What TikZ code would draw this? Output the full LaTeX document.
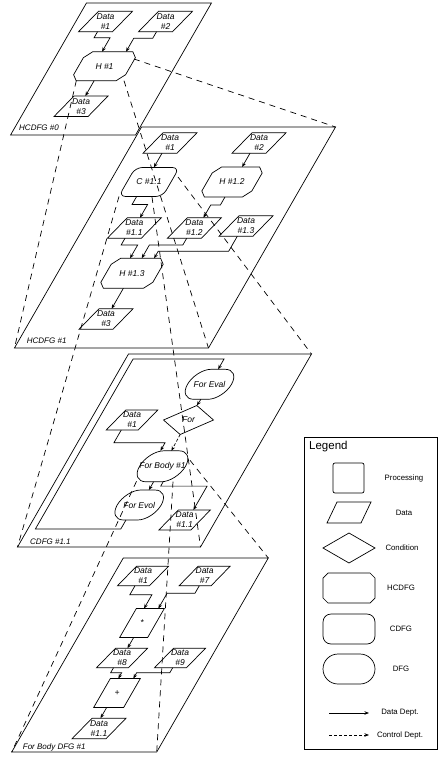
\documentclass[tikz,border=0pt]{standalone}
\usepackage{fontspec}
\setmainfont{Liberation Sans}
\usetikzlibrary{shapes.geometric,shapes.misc,arrows.meta,calc}
\newcommand{\hcdfgpath}[2]{%
  \draw[line width=0.7pt] ($(#1.north west)+(#2,0)$) -- ($(#1.north east)+(-#2,0)$)
    -- ($(#1.north east)+(0,#2)$) -- ($(#1.south east)+(0,-#2)$)
    -- ($(#1.south east)+(-#2,0)$) -- ($(#1.south west)+(#2,0)$)
    -- ($(#1.south west)+(0,-#2)$) -- ($(#1.north west)+(0,#2)$) -- cycle;}
\begin{document}
\begin{tikzpicture}[x=1pt,y=-1pt,
  shp/.style={draw, line width=0.7pt, inner sep=0pt, outer sep=0pt},
  plane/.style={shp, rectangle, xslant=0.575},
  dat/.style={shp, rectangle, xslant=0.975, minimum width=34pt, minimum height=20.5pt},
  proc/.style={shp, rectangle, xslant=0.575, minimum width=28pt, minimum height=29pt},
  cond/.style={shp, diamond, xslant=0.575, minimum width=50pt, minimum height=29pt},
  hc/.style={rectangle, inner sep=0pt, outer sep=0pt, xslant=0.575, minimum width=52pt, minimum height=29pt},
  cd/.style={shp, rectangle, rounded corners=7pt, xslant=0.575, minimum width=44pt, minimum height=29pt},
  dfg/.style={shp, rounded rectangle, xslant=0.575, minimum width=44pt, minimum height=30pt},
  ntxt/.style={font=\fontsize{8.5}{10}\selectfont\itshape, align=center, inner sep=0pt},
  ptxt/.style={font=\fontsize{8}{9}\selectfont\itshape, inner sep=0pt, anchor=west},
  ltxt/.style={font=\fontsize{7.8}{9}\selectfont, inner sep=0pt},
  dd/.style={line width=0.7pt, -{Stealth[length=4.5pt,width=3.5pt]}},
  cdep/.style={dd, dash pattern=on 3pt off 2pt},
  cdl/.style={line width=0.7pt, dash pattern=on 6pt off 5pt}]
\useasboundingbox (0,0) rectangle (438,757);

% ---------- planes ----------
\node[plane, minimum width=125pt, minimum height=132pt] (p0) at (111,69) {};
\node[plane, minimum width=194pt, minimum height=221pt] (p1) at (175,237.5) {};
\node[plane, minimum width=183pt, minimum height=193pt] (p2) at (164.5,450.5) {};
\node[plane, minimum width=145pt, minimum height=194pt] (p3) at (140,655) {};
\node[ptxt] (p0l) at (19,128) {HCDFG \#0};
\node[ptxt] (p1l) at (26.7,340.5) {HCDFG \#1};
\node[ptxt] (p2l) at (30,541.5) {CDFG \#1.1};
\node[ptxt] (p3l) at (22.7,747) {For Body DFG \#1};

% ---------- plane 0 ----------
\node[dat] (d01) at (105.5,21.5) {};  \node[ntxt] (d01t) at (d01) {Data\\\#1};
\node[dat] (d02) at (165.5,21.5) {};  \node[ntxt] (d02t) at (d02) {Data\\\#2};
\node[hc] (h01) at (104.5,66.2) {};   \node[ntxt] (h01t) at (h01) {H \#1};
\node[dat] (d03) at (81,106.3) {};    \node[ntxt] (d03t) at (d03) {Data\\\#3};

% ---------- plane 1 ----------
\node[dat] (d11) at (170,143) {};     \node[ntxt] (d11t) at (d11) {Data\\\#1};
\node[dat] (d12) at (259,143) {};     \node[ntxt] (d12t) at (d12) {Data\\\#2};
\node[cd] (c11) at (149,182) {};      \node[ntxt] (c11t) at (c11) {C \#1.1};
\node[hc, minimum width=50pt, minimum height=30pt] (h12) at (232,182) {}; \node[ntxt] (h12t) at (h12) {H \#1.2};
\node[dat] (d111) at (134.3,228) {};  \node[ntxt] (d111t) at (d111) {Data\\\#1.1};
\node[dat] (d112) at (194.4,228) {};  \node[ntxt] (d112t) at (d112) {Data\\\#1.2};
\node[dat] (d113) at (246,226) {};    \node[ntxt] (d113t) at (d113) {Data\\\#1.3};
\node[hc, minimum width=52pt, minimum height=30pt] (h13) at (132,273.3) {}; \node[ntxt] (h13t) at (h13) {H \#1.3};
\node[dat] (d13) at (106,319) {};     \node[ntxt] (d13t) at (d13) {Data\\\#3};

% ---------- plane 2 ----------
\node[dfg] (fev) at (209.5,384.3) {}; \node[ntxt] (fevt) at (fev) {For Eval};
\node[cond] (for) at (188.5,420) {};  \node[ntxt] (fort) at (for) {For};
\node[dat, minimum width=32pt, minimum height=20pt] (d21) at (132,420) {}; \node[ntxt] (d21t) at (d21) {Data\\\#1};
\node[dfg, minimum width=46pt, minimum height=31pt] (fb) at (162.5,466.3) {}; \node[ntxt] (fbt) at (fb) {For Body \#1};
\node[dfg] (fvl) at (139.2,505) {};   \node[ntxt] (fvlt) at (fvl) {For Evol};
\node[dat, minimum width=32pt, minimum height=20pt] (d211) at (184.6,520) {}; \node[ntxt] (d211t) at (d211) {Data\\\#1.1};

% ---------- plane 3 ----------
\node[dat, minimum width=32pt, minimum height=19.5pt] (d31) at (143,576) {}; \node[ntxt] (d31t) at (d31) {Data\\\#1};
\node[dat, minimum width=32pt, minimum height=19.5pt] (d37) at (204.6,576) {}; \node[ntxt] (d37t) at (d37) {Data\\\#7};
\node[proc] (mul) at (142,623) {};    \node[ntxt] (mult) at (mul) {*};
\node[dat, minimum width=32pt, minimum height=19.5pt] (d38) at (122,658) {}; \node[ntxt] (d38t) at (d38) {Data\\\#8};
\node[dat, minimum width=32pt, minimum height=19.5pt] (d39) at (180,658) {}; \node[ntxt] (d39t) at (d39) {Data\\\#9};
\node[proc, minimum width=30pt] (add) at (117,693) {}; \node[ntxt] (addt) at (add) {+};
\node[dat] (d3e) at (99,728.5) {};    \node[ntxt] (d3et) at (d3e) {Data\\\#1.1};

% ---------- sheared plane frame: HCDFG outlines and data dependences ----------
\begin{scope}[xslant=0.575]
\hcdfgpath{h01}{6}
\hcdfgpath{h12}{6}
\hcdfgpath{h13}{6}

\draw[dd] ($(d01.south)+(2,0)$) -- ++(0,6) -| ($(h01.north)+(-10.8,0)$);
\draw[dd] ($(d02.south)+(1,0)$) -- ++(0,6.5) -| ($(h01.north)+(13.2,0)$);
\coordinate (c0a) at ($(h01.south)+(-2,0)$);
\draw[dd] (c0a) -- (c0a |- d03.north);

\coordinate (c1a) at ($(d11.south)+(2,0)$);
\draw[dd] (c1a) -- (c1a |- c11.north);
\coordinate (c1b) at ($(d12.south)+(1,0)$);
\draw[dd] (c1b) -- (c1b |- h12.north);
\draw[dd] ($(c11.south)+(-4,0)$) -- ++(0,8) -| ($(d111.north)+(-4.3,0)$);
\draw[dd] ($(h12.south)+(1.6,0)$) -- ++(0,8) -| ($(d112.north)+(-1,0)$);
\draw[dd] ($(d111.south)+(0.7,0)$) -- ++(0,6.7) -| ($(h13.north)+(-10.6,0)$);
\draw[dd] ($(d112.south)+(2.3,0)$) -- ++(0,6.7) -| ($(h13.north)+(1.1,0)$);
\draw[dd] ($(d113.south)+(1.3,0)$) -- ++(0,15) -| ($(h13.north)+(13.5,0)$);
\draw[dd] (h13.south) -- (h13.south |- d13.north);

\draw[dd] ($(fvl.south)+(-4.6,0)$) -- ++(0,9) -| ($(p2.north west)+(7.5,5)$) -| (fev.north);
\draw[dd] (fev.south) -- (for.north);
\draw[cdep] (for.south) -- (fb.north);
\draw[dd] ($(d21.south)+(-1,0)$) -- ++(0,12.7) -| ($(fb.north)+(-11,0)$);
\draw[dd] (fb.south) -- (fb.south |- fvl.north);
\draw[dd] ($(fb.south)+(9.6,0)$) -- ++(0,4.3) -| ($(d211.north)+(-1,0)$);

\draw[dd] ($(d31.south)+(1.5,0)$) -- ++(0,9) -| ($(mul.north)+(-6.3,0)$);
\draw[dd] ($(d37.south)+(4.2,0)$) -- ++(0,7.5) -| ($(mul.north)+(8,0)$);
\draw[dd] (mul.south) -- (mul.south |- d38.north);
\draw[dd] ($(d38.south)+(1,0)$) -- ++(0,5) -| ($(add.north)+(-7,0)$);
\draw[dd] ($(d39.south)+(2.2,0)$) -- ++(0,5) -| ($(add.north)+(8,0)$);
\coordinate (c3a) at ($(add.south)+(-2,0)$);
\draw[dd] (c3a) -- (c3a |- d3e.north);
\end{scope}

% ---------- hierarchy projection lines ----------
\draw[cdl] ($(h01)+(29.5,-7.2)$) -- (p1.north east);
\draw[cdl] ($(h01)+(19.5,14.5)$) -- (p1.south east);
\draw[cdl] ($(h01)+(-28.2,14.5)$) -- (p1.south west);
\draw[cdl] ($(c11)+(29,-5)$) -- (p2.north east);
\draw[cdl] ($(c11)+(-30,14.5)$) -- (p2.south west);
\draw[cdl] ($(c11)+(3,15)$) -- (p2.south east);
\draw[cdl] ($(fb)+(27.5,-6)$) -- (p3.north east);
\draw[cdl] ($(fb)+(10.5,15.4)$) -- (p3.south east);
\draw[cdl] ($(fb)+(-26,15)$) -- (p3.south west);

% ---------- legend ----------
\node[shp, rectangle, minimum width=133pt, minimum height=312pt] (lg) at (370.5,593) {};
\node[font=\fontsize{11.5}{12}\selectfont, inner sep=0pt, anchor=north west] (lgt) at (309,441) {Legend};
\node[shp, rectangle, rounded corners=2pt, minimum width=31pt, minimum height=30pt] (lproc) at (348.5,478) {};
\node[shp, rectangle, xslant=0.476, minimum width=34pt, minimum height=21pt] (ldat) at (349,512.5) {};
\node[shp, diamond, minimum width=52pt, minimum height=30pt] (lcond) at (349,548) {};
\node[rectangle, inner sep=0pt, outer sep=0pt, minimum width=52pt, minimum height=30pt] (lhc) at (349,588) {};
\hcdfgpath{lhc}{5}
\node[shp, rectangle, rounded corners=8pt, minimum width=52pt, minimum height=30pt] (lcd) at (349,629) {};
\node[shp, rounded rectangle, minimum width=52pt, minimum height=30pt] (ldfg) at (349,669) {};
\coordinate (la1) at (329,713); \coordinate (la2) at (369,713);
\coordinate (lc1) at (329,735); \coordinate (lc2) at (369,735);
\draw[dd] (la1) -- (la2);
\draw[cdep] (lc1) -- (lc2);
\node[ltxt] (lt1) at (404,478) {Processing};
\node[ltxt] (lt2) at (404,513) {Data};
\node[ltxt] (lt3) at (402,548) {Condition};
\node[ltxt] (lt4) at (401,588) {HCDFG};
\node[ltxt] (lt5) at (401,629) {CDFG};
\node[ltxt] (lt6) at (401,669) {DFG};
\node[ltxt] (lt7) at (400,713) {Data Dept.};
\node[ltxt] (lt8) at (400,735) {Control Dept.};
\end{tikzpicture}
\end{document}
